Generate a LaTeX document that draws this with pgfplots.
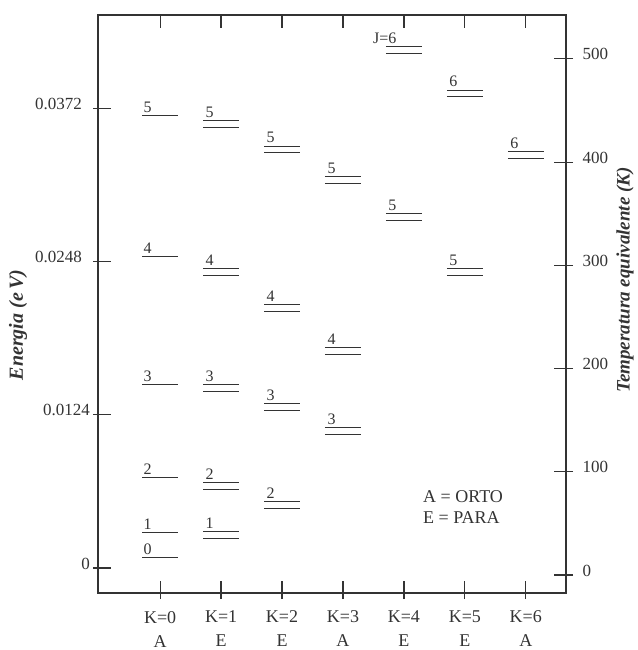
\documentclass[border=0pt]{standalone}
\usepackage{fontspec}
\setmainfont{Liberation Serif}
\usepackage{pgfplots}
\usepackage{pgfplotstable}
\pgfplotsset{compat=1.18}

\definecolor{ink}{gray}{0.2}

% energy level marks: one bar, or a pair of close bars for degenerate levels
\pgfdeclareplotmark{single}{%
  \pgfpathmoveto{\pgfqpoint{-9pt}{0pt}}\pgfpathlineto{\pgfqpoint{9pt}{0pt}}%
  \pgfusepathqstroke}
\pgfdeclareplotmark{double}{%
  \pgfpathmoveto{\pgfqpoint{-9pt}{1.65pt}}\pgfpathlineto{\pgfqpoint{9pt}{1.65pt}}%
  \pgfpathmoveto{\pgfqpoint{-9pt}{-1.65pt}}\pgfpathlineto{\pgfqpoint{9pt}{-1.65pt}}%
  \pgfusepathqstroke}

% K = 0 ladder (single levels), energy in eV
\pgfplotstableread{
K E J
0 0.00089 0
0 0.00291 1
0 0.00736 2
0 0.01488 3
0 0.02516 4
0 0.03664 5
}\singlelevels

% K > 0 ladders (doubly degenerate levels), energy in eV
\pgfplotstableread{
K E J
1 0.00267 1
1 0.00663 2
1 0.01456 3
1 0.02394 4
1 0.03592 5
2 0.00510 2
2 0.01302 3
2 0.02103 4
2 0.03385 5
3 0.01108 3
3 0.01755 4
3 0.03139 5
4 0.02839 5
4 0.04188 {\llap{J=}6}
5 0.02394 5
5 0.03838 6
6 0.03341 6
}\doublelevels

\begin{document}
\begin{tikzpicture}
% energy scale, bottom and left
\begin{axis}[
  scale only axis, width=234pt, height=289pt,
  xmin=-1.02, xmax=6.66,
  ymin=-0.002022, ymax=0.04473,
  scaled y ticks=false,
  axis line style={ink, line width=0.6pt},
  tick align=center, major tick length=9pt,
  tick style={ink, line width=0.6pt},
  xtick={0,1,2,3,4,5,6},
  xticklabels={K=0\\A, K=1\\E, K=2\\E, K=3\\A, K=4\\E, K=5\\E, K=6\\A},
  xticklabel style={align=center, font=\fontsize{9}{12}\selectfont, text=ink,
    yshift=-1pt},
  xtick pos=bottom,
  xtick style={yshift=1.5pt},
  ytick={0,0.0124,0.0248,0.0372},
  yticklabels={0\kern-4pt, 0.0124\kern-4pt, 0.0248, 0.0372},
  yticklabel style={font=\fontsize{8.5}{10}\selectfont, text=ink, yshift=2.25pt},
  ytick pos=left,
  ytick style={xshift=2.25pt},
  /pgf/number format/assume math mode=true,
  ylabel={Energia (e\,V)},
  every axis y label/.style={at={(rel axis cs:0,0.4637)}, xshift=-40pt,
    rotate=90, anchor=center, font=\fontsize{10}{12}\selectfont\bfseries\itshape,
    text=ink},
  clip=false,
  every node near coord/.append style={anchor=base west, inner sep=0pt,
    font=\fontsize{8}{10}\selectfont, text=ink},
]
\addplot[only marks, mark=single, mark options={ink, line width=0.5pt},
  point meta=explicit symbolic, nodes near coords,
  nodes near coords style={xshift=-8.5pt, yshift=1.5pt}]
  table[x=K, y=E, meta=J] {\singlelevels};
\addplot[only marks, mark=double, mark options={ink, line width=0.55pt},
  point meta=explicit symbolic, nodes near coords,
  nodes near coords style={xshift=-8pt, yshift=3.4pt}]
  table[x=K, y=E, meta=J] {\doublelevels};
\node[anchor=north west, align=left, inner sep=0pt, text=ink,
  font=\fontsize{9}{10.5}\selectfont] at (rel axis cs:0.694,0.178)
  {A = ORTO\\E = PARA};
\end{axis}
% temperature scale, right
\begin{axis}[
  scale only axis, width=234pt, height=289pt,
  xmin=-1.02, xmax=6.66,
  ymin=-17.4, ymax=542.5,
  axis x line=none, axis y line*=right,
  axis line style={ink, line width=0.6pt, -},
  tick align=center, major tick length=9.5pt,
  tick style={ink, line width=0.6pt},
  ytick={0,100,200,300,400,500},
  yticklabel style={font=\fontsize{8.5}{10}\selectfont, text=ink, yshift=2.25pt},
  ytick style={xshift=-1.25pt},
  /pgf/number format/assume math mode=true,
  ylabel={Temperatura equivalente (K)},
  every axis y label/.style={at={(rel axis cs:1,0.5415)}, xshift=29.5pt,
    rotate=90, anchor=center, font=\fontsize{9.5}{12}\selectfont\bfseries\itshape,
    text=ink},
]
\end{axis}
% inward ticks along the top edge
\begin{axis}[
  scale only axis, width=234pt, height=289pt,
  xmin=-1.02, xmax=6.66, ymin=0, ymax=1,
  axis x line*=top, axis y line=none,
  axis line style={ink, line width=0.6pt, -},
  tick align=inside, major tick length=6.5pt,
  tick style={ink, line width=0.6pt},
  xtick={0,1,2,3,4,5,6}, xticklabel=\empty,
]
\end{axis}
\pgfresetboundingbox
\path (-49pt,-28.5pt) rectangle (270pt,296.5pt);
\end{tikzpicture}
\end{document}
